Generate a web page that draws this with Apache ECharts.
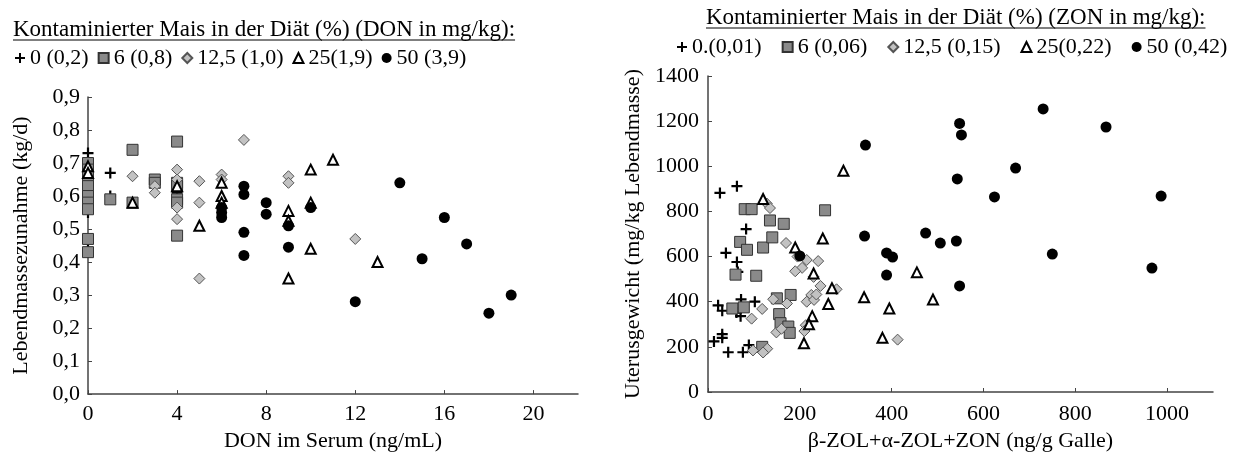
<!DOCTYPE html>
<html><head><meta charset="utf-8">
<script src="https://cdn.jsdelivr.net/npm/echarts@6/dist/echarts.min.js"></script>
<style>html,body{margin:0;padding:0;background:#fff}#c{width:1239px;height:457px}</style>
</head><body><div id="c"></div>
<script>
// ---------- Left chart data: DON im Serum (ng/mL) vs Lebendmassezunahme (kg/d)
const leftNames = ['0 (0,2)', '6 (0,8)', '12,5 (1,0)', '25(1,9)', '50 (3,9)'];
const leftCross = [[0,0.73],[0,0.68],[0,0.65],[0,0.62],[0,0.60],[0,0.57],[0,0.55],[0,0.44],[1,0.67],[1,0.60],[4,0.63],[4,0.61]];
const leftSquare = [[0,0.70],[0,0.68],[0,0.66],[0,0.63],[0,0.60],[0,0.58],[0,0.56],[0,0.47],[0,0.43],[1,0.59],[2,0.74],[2,0.58],[3,0.65],[3,0.64],[4,0.765],[4,0.64],[4,0.63],[4,0.59],[4,0.58],[4,0.48]];
const leftDiamond = [[2,0.66],[3,0.63],[3,0.61],[4,0.68],[4,0.65],[4,0.565],[4,0.53],[5,0.645],[5,0.58],[5,0.35],[6,0.665],[6,0.65],[7,0.77],[9,0.66],[9,0.64],[12,0.47]];
const leftTriangle = [[0,0.69],[0,0.67],[2,0.58],[4,0.63],[5,0.51],[6,0.64],[6,0.60],[6,0.58],[9,0.555],[9,0.525],[9,0.35],[10,0.68],[10,0.58],[10,0.44],[11,0.71],[13,0.40]];
const leftCircle = [[6,0.565],[6,0.55],[6,0.535],[7,0.63],[7,0.605],[7,0.49],[7,0.42],[8,0.58],[8,0.545],[9,0.51],[9,0.445],[10,0.565],[12,0.28],[14,0.64],[15,0.41],[16,0.535],[17,0.455],[18,0.245],[19,0.30]];

// ---------- Right chart data: β-ZOL+α-ZOL+ZON (ng/g Galle) vs Uterusgewicht
const rightNames = ['0.(0,01)', '6 (0,06)', '12,5 (0,15)', '25(0,22)', '50 (0,42)'];
const rightCross = [[26,882],[63,912],[39,616],[63,576],[65,532],[72,410],[83,722],[13,224],[31,256],[31,240],[44,176],[76,176],[89,208],[22,384],[31,360],[62,352],[71,336],[102,400]];
const rightSquare = [[80,810],[95,810],[255,805],[135,760],[165,745],[70,665],[85,630],[120,640],[140,685],[60,520],[105,515],[180,430],[150,415],[53,370],[78,375],[155,345],[158,305],[175,290],[178,262],[118,200]];
const rightDiamond = [[128,835],[135,815],[170,660],[195,600],[205,550],[190,535],[215,585],[240,580],[230,510],[245,470],[280,455],[225,430],[215,400],[95,325],[118,368],[142,411],[98,184],[129,192],[149,264],[160,280],[172,392],[213,296],[231,408],[236,432],[413,232],[210,270],[120,175]];
const rightTriangle = [[120,855],[190,640],[250,680],[230,525],[270,460],[262,390],[227,336],[209,216],[220,300],[295,980],[340,420],[380,240],[395,370],[455,530],[490,410]];
const rightCircle = [[343,1094],[548,1190],[552,1139],[730,1254],[867,1174],[670,992],[543,944],[624,864],[987,868],[474,704],[341,691],[389,616],[402,598],[506,660],[541,669],[389,518],[548,470],[750,611],[967,549],[200,603]];

const leftTitle = 'Kontaminierter Mais in der Diät (%) (DON in mg/kg):';
const rightTitle = 'Kontaminierter Mais in der Diät (%) (ZON in mg/kg):';

const FONT = '"Liberation Serif", "Times New Roman", serif';
const crossPath = 'path://M4,0H6V4H10V6H6V10H4V6H0V4H4Z';

function measure(t, size){const c=document.createElement('canvas').getContext('2d');c.font=size+'px '+FONT;return c.measureText(t).width;}

const styles = [
  {symbol: crossPath, size: 11, itemStyle:{color:'#000', opacity:1}},
  {symbol: 'rect', size: 11, itemStyle:{color:'#8a8a8a', borderColor:'#333', borderWidth:1, opacity:1}},
  {symbol: 'diamond', size: 11, itemStyle:{color:'#c2c2c2', borderColor:'#555', borderWidth:1, opacity:1}},
  {symbol: 'triangle', size: 10, itemStyle:{color:'#fff', borderColor:'#000', borderWidth:2, opacity:1}},
  {symbol: 'circle', size: 11, itemStyle:{color:'#000', opacity:1}}
];

function mk(names, datas, idx){
  return datas.map((d,i)=>({
    type:'scatter', name:names[i], xAxisIndex:idx, yAxisIndex:idx, data:d,
    symbol:styles[i].symbol, symbolSize:styles[i].size, itemStyle:styles[i].itemStyle,
    emphasis:{disabled:true}, animation:false, z: 2+i
  }));
}

const FS = 22;
const axisCommon = {
  axisLine:{show:true, lineStyle:{color:'#444', width:1.5}},
  axisTick:{show:true, inside:true, length:4, lineStyle:{color:'#444'}},
  splitLine:{show:false},
  axisLabel:{color:'#000', fontFamily:FONT, fontSize:FS},
  nameTextStyle:{color:'#000', fontFamily:FONT, fontSize:FS},
  nameLocation:'middle'
};

const chart = echarts.init(document.getElementById('c'));
const TS = 23;
const lw = measure(leftTitle, TS), rw = measure(rightTitle, TS);
chart.setOption({
  backgroundColor:'#fff',
  animation:false,
  grid:[
    {left:88, top:97, width:490, height:298},
    {left:708, top:76, width:505, height:316}
  ],
  xAxis:[
    Object.assign({}, axisCommon, {gridIndex:0, type:'value', min:0, max:22, interval:4, name:'DON im Serum (ng/mL)', nameGap:34,
      axisLabel:Object.assign({}, axisCommon.axisLabel, {showMaxLabel:false, margin:9})}),
    Object.assign({}, axisCommon, {gridIndex:1, type:'value', min:0, max:1100, interval:200, name:'β-ZOL+α-ZOL+ZON (ng/g Galle)', nameGap:37,
      axisLabel:Object.assign({}, axisCommon.axisLabel, {showMaxLabel:false, margin:11, formatter:v=>String(v)})})
  ],
  yAxis:[
    Object.assign({}, axisCommon, {gridIndex:0, type:'value', min:0, max:0.9, interval:0.1, name:'Lebendmassezunahme (kg/d)', nameGap:56,
      axisLabel:Object.assign({}, axisCommon.axisLabel, {formatter:v=>v.toFixed(1).replace('.',','), margin:8})}),
    Object.assign({}, axisCommon, {gridIndex:1, type:'value', min:0, max:1400, interval:200, name:'Uterusgewicht (mg/kg Lebendmasse)', nameGap:64,
      axisLabel:Object.assign({}, axisCommon.axisLabel, {margin:9, formatter:v=>String(v)})})
  ],
  legend:[
    {data:leftNames, left:10, top:42, itemWidth:10, itemHeight:10, itemGap:9, textStyle:{fontFamily:FONT, fontSize:FS, color:'#000', padding:[0,0,0,0]}, selectedMode:false},
    {data:rightNames, left:672, top:31, itemWidth:10, itemHeight:10, itemGap:20, textStyle:{fontFamily:FONT, fontSize:FS, color:'#000'}, selectedMode:false}
  ],
  graphic:[
    {type:'text', left:13, top:18, style:{text:leftTitle, font:TS+'px '+FONT, fill:'#000'}},
    {type:'line', shape:{x1:13, y1:40, x2:13+lw, y2:40}, style:{stroke:'#000', lineWidth:1}},
    {type:'text', left:706, top:6, style:{text:rightTitle, font:TS+'px '+FONT, fill:'#000'}},
    {type:'line', shape:{x1:706, y1:28, x2:706+rw, y2:28}, style:{stroke:'#000', lineWidth:1}}
  ],
  series:[].concat(
    mk(leftNames, [leftCross, leftSquare, leftDiamond, leftTriangle, leftCircle], 0),
    mk(rightNames, [rightCross, rightSquare, rightDiamond, rightTriangle, rightCircle], 1)
  )
});
</script></body></html>
